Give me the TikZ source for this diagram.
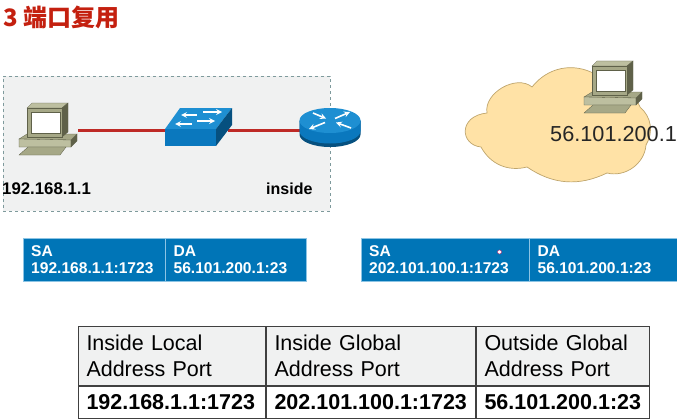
\documentclass[tikz,border=0pt]{standalone}
\usepackage{fontspec}
\setmainfont{Liberation Sans}
\newfontfamily\cjk{Noto Sans CJK SC}
\definecolor{titlered}{HTML}{C4200F}
\definecolor{linkred}{HTML}{BE2A26}
\definecolor{lanbg}{HTML}{F0F1F1}
\definecolor{lanline}{HTML}{7E9A9C}
\definecolor{netblue}{HTML}{0075B7}
\definecolor{netline}{HTML}{8CC4E4}
\definecolor{devtop}{HTML}{1E8FD2}
\definecolor{devfront}{HTML}{0A78BE}
\definecolor{devside}{HTML}{06507F}
\definecolor{pclight}{HTML}{BDBFA0}
\definecolor{pcmid}{HTML}{A6A887}
\definecolor{pcdark}{HTML}{5F6149}
\definecolor{cloudfill}{HTML}{FFE2A6}
\definecolor{cloudline}{HTML}{BFA56C}
\tikzset{
	device/.style={inner sep=0pt, minimum width=60, minimum height=30},
	lbl/.style={inner sep=0pt, anchor=base west},
	packet/.style={draw=netline, fill=netblue, text=white, anchor=north west, inner sep=0pt, minimum height=43, align=left, font=\fontsize{15.6}{17.5}\selectfont\bfseries},
	cell/.style={draw=black!75, line width=1pt, anchor=north west, inner sep=0pt, align=left},
	headcell/.style={cell, fill=lanbg, minimum height=59, font=\fontsize{21.5}{26}\selectfont},
	datacell/.style={cell, fill=white, minimum height=32, font=\fontsize{21.5}{26}\selectfont\bfseries},
	flow/.style={->, >=stealth, white, line width=1.6pt}
}
\newcommand{\drawpc}[2]{
	\begin{scope}[shift={(#1,#2)}, draw=pcdark, line width=.3pt]
		\draw[fill=pcmid] (19,79)--(27,74)--(77,74)--(71,80)--cycle;
		\draw[fill=pclight] (19,79)--(71,80)--(71,87)--(19,87)--cycle;
		\draw[fill=pcdark] (71,80)--(77,74)--(77,81)--(71,87)--cycle;
		\draw[fill=pcmid] (19,95)--(28,87)--(66,87)--(60,95)--cycle;
		\draw[fill=pclight] (27,48)--(32,43)--(68,43)--(62,48)--cycle;
		\draw[fill=pcdark] (62,48)--(68,43)--(68,72)--(62,77)--cycle;
		\draw[fill=pcmid] (27,48)--(62,48)--(62,77)--(27,77)--cycle;
		\draw[fill=white] (31,52)--(60,52)--(60,73)--(31,73)--cycle;
	\end{scope}
}
\begin{document}
\begin{tikzpicture}[x=1pt, y=-1pt]
	\useasboundingbox (0,0) rectangle (677,420);
	\node[lbl, text=titlered, font=\fontsize{24}{24}\selectfont\cjk\bfseries] (TITLE)at(3,27) {3 端口复用};
	\node[draw=lanline, dashed, fill=lanbg, anchor=north west, inner sep=0pt, minimum width=327, minimum height=135] (LAN)at(3,75.5) {};
	\draw[fill=cloudfill, draw=cloudline, line width=.7pt] (481,147) .. controls (460,145) and (458,116) .. (487,113) to[bend left=70] (532,87) to[bend left=40] (595,74) to[bend left=30] (640,107) to[bend left=40] (646,145) to[bend left=50] (607,173) to[bend left=30] (527,167) to[bend left=38] (481,147) -- cycle;
	\node[device] (PCA)at(48,130) {};
	\node[device] (SW)at(198,130) {};
	\node[device] (R)at(330,130) {};
	\draw[linkred, line width=3pt] (PCA) -- (SW);
	\draw[linkred, line width=3pt] (SW) -- (R);
	\drawpc{0}{60}
	\drawpc{565}{18}
	\fill[devtop] (165,129)--(180,108)--(232,108)--(216,129)--cycle;
	\fill[devfront] (165,129)--(216,129)--(216,146)--(165,146)--cycle;
	\fill[devside] (216,129)--(232,108)--(232,125)--(216,146)--cycle;
	\draw[flow] (197,115)--(181,115);
	\draw[flow] (203,112)--(222,112);
	\draw[flow] (192,124)--(175,124);
	\draw[flow] (197,121)--(215,121);
	\fill[devside] (299.5,120.5) -- (299.5,134.5) arc[start angle=180, end angle=0, x radius=30.5, y radius=12.5] -- (360.5,120.5) -- cycle;
	\fill[devfront] (299.5,120.5) -- (299.5,131) arc[start angle=180, end angle=0, x radius=30.5, y radius=12.5] -- (360.5,120.5) -- cycle;
	\fill[devtop] (330,120.5) ellipse[x radius=30.5, y radius=12.5];
	\draw[flow] (313,113)--(326,118.5);
	\draw[flow] (335,118.5)--(350,112);
	\draw[flow] (325,122.5)--(309,129);
	\draw[flow] (351,128)--(336,122.5);
	\node[lbl, font=\fontsize{16.8}{16.8}\selectfont\bfseries] (LOCALIP)at(2,194) {192.168.1.1};
	\node[lbl, font=\fontsize{16}{16}\selectfont\bfseries] (INSIDE)at(266,194) {inside};
	\node[lbl, font=\fontsize{21.7}{21.7}\selectfont, text=black!85] (REMOTEIP)at(550,141) {56.101.200.1};
	\node[packet, text width=126, inner xsep=8pt] (SAA)at(23,238) {SA\\192.168.1.1:1723};
	\node[packet, text width=125, inner xsep=8pt] (DAA)at(SAA.north east) {DA\\56.101.200.1:23};
	\node[packet, text width=152, inner xsep=8pt] (SAB)at(361,238) {SA\\202.101.100.1:1723};
	\node[packet, text width=140, inner xsep=8pt] (DAB)at(SAB.north east) {DA\\56.101.200.1:23};
	\draw[draw=magenta!70!black, fill=white, line width=.5pt] (499.5,252) circle (2);
	\node[headcell, text width=171, inner xsep=8pt] (HA)at(78,325.5) {Inside Local\\Address Port};
	\node[headcell, text width=193, inner xsep=8pt] (HB)at(HA.north east) {Inside Global\\Address Port};
	\node[headcell, text width=157, inner xsep=8pt] (HC)at(HB.north east) {Outside Global\\Address Port};
	\node[datacell, text width=171, inner xsep=8pt] (VA)at(HA.south west) {192.168.1.1:1723};
	\node[datacell, text width=193, inner xsep=8pt] (VB)at(HB.south west) {202.101.100.1:1723};
	\node[datacell, text width=157, inner xsep=8pt] (VC)at(HC.south west) {56.101.200.1:23};
\end{tikzpicture}
\end{document}
